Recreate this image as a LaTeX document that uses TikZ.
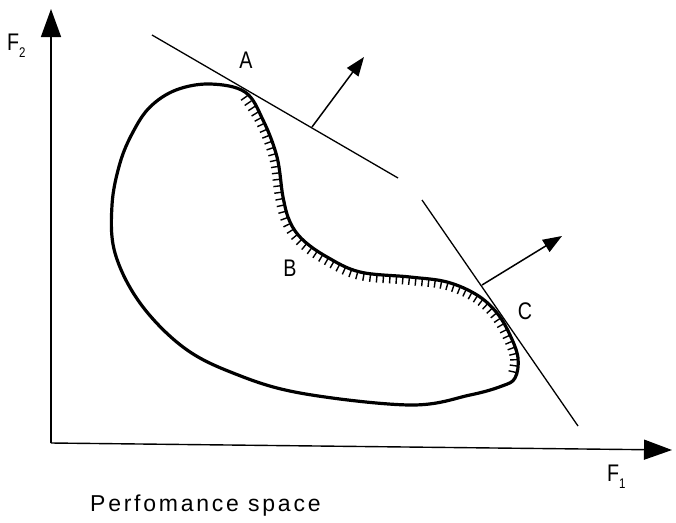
\documentclass[tikz,border=0pt]{standalone}
\usepackage{fontspec}
\setmainfont{Liberation Sans}
\usetikzlibrary{arrows.meta,decorations.markings}
\tikzset{
  axis/.style={line width=1.4pt,-{Triangle[length=28pt,width=20pt]}},
  tangent/.style={line width=1.3pt},
  normalarrow/.style={line width=1.5pt,-{Triangle[length=19pt,width=14pt]}},
  region/.style={line width=3.2pt,line join=round},
  hatched/.style={postaction={decorate},decoration={markings,
      mark=between positions 0.01 and 0.99 step 6.5pt with {\draw[line width=1.4pt] (0,0) -- (0,-8pt);}}},
  lbl/.style={font=\fontsize{24}{26}\selectfont,inner sep=0pt}
}
\newcommand{\narrow}[1]{\scalebox{0.82}[1]{#1}}
\begin{document}
\begin{tikzpicture}[x=1pt,y=-1pt]
\useasboundingbox (0,0) rectangle (676,522);
% axes
\coordinate (O) at (51,443);
\coordinate (Ytip) at (51,9);
\coordinate (Xtip) at (672,450);
\draw[axis] (O) -- (Ytip);
\draw[axis] (O) -- (Xtip);
\node[lbl,anchor=south west] (F2) at (7,58) {\narrow{F}\raisebox{-7pt}{\fontsize{14}{14}\selectfont\narrow{2}}};
\node[lbl,anchor=south west] (F1) at (607,489) {\narrow{F}\raisebox{-7pt}{\fontsize{14}{14}\selectfont\narrow{1}}};
\node[lbl,anchor=south west,font=\fontsize{23}{25}\selectfont] (title) at (90,516) {\addfontfeature{LetterSpace=12}Perfomance space};
% region outline
\draw[region] plot[smooth cycle,tension=0.6] coordinates {
 (245,92) (263,120) (277,157) (283,197) (290,222) (303,240) (327,257)
 (360,272) (410,277) (447,282) (477,295) (497,313) (510,335) (518,358) (515,378)
 (502,386) (470,395) (410,405) (300,393) (233,373) (183,347) (140,303) (115,253)
 (112,205) (120,163) (133,132) (150,107) (176,90) (210,84)};
% hatched efficient boundary
\path[hatched] plot[smooth,tension=0.6] coordinates {
 (245,92) (263,120) (277,157) (283,197) (290,222) (303,240) (327,257)
 (360,272) (410,277) (447,282) (477,295) (497,313) (510,335) (518,358) (515,378)};
% tangent lines
\coordinate (L1a) at (152,35);
\coordinate (L1b) at (398,178);
\draw[tangent] (L1a) -- (L1b);
\coordinate (L2a) at (422,200);
\coordinate (L2b) at (578,426);
\draw[tangent] (L2a) -- (L2b);
% normal arrows
\coordinate (N1) at (312,127);
\coordinate (N1t) at (364,57);
\draw[normalarrow] (N1) -- (N1t);
\coordinate (N2) at (482,285);
\coordinate (N2t) at (562,236);
\draw[normalarrow] (N2) -- (N2t);
% labels
\node[lbl] (A) at (246,60) {\narrow{A}};
\node[lbl] (B) at (290,268) {\narrow{B}};
\node[lbl] (C) at (525,311) {\narrow{C}};
\end{tikzpicture}
\end{document}
